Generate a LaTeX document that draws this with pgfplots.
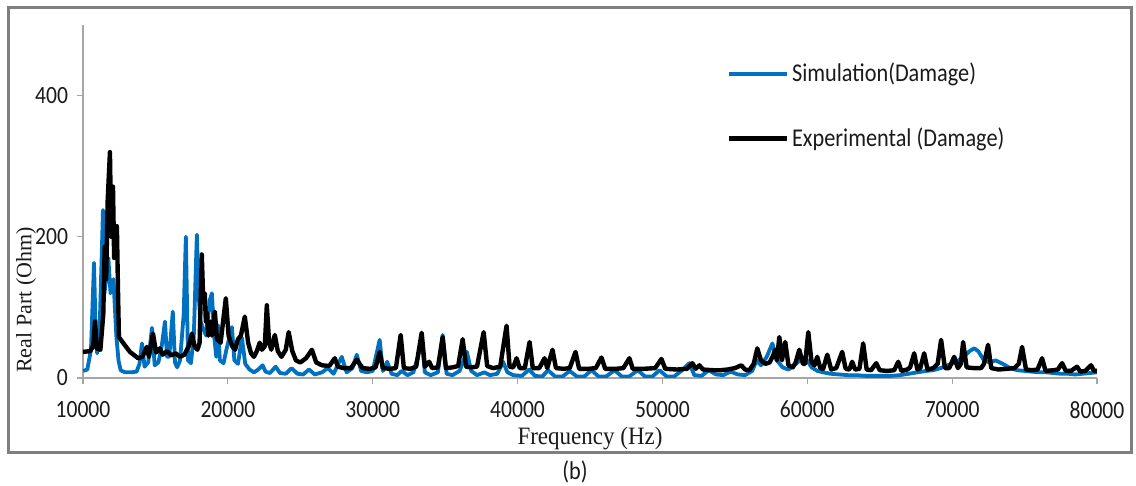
\documentclass[border=0pt]{standalone}
\usepackage{pgfplots}
\pgfplotsset{compat=1.18}
\usepackage{fontspec}
\setmainfont{Carlito}[FakeStretch=0.87]
\newfontfamily\serifx{Liberation Serif}[FakeStretch=0.92]
\newfontfamily\serify{Liberation Serif}
\definecolor{simblue}{HTML}{0070C0}
\definecolor{framegray}{HTML}{7F7F7F}
\definecolor{axgray}{HTML}{A6A6A6}
\definecolor{txt}{HTML}{1A1A1A}

\pgfplotstableread{
f v
10000 37
10500 38
10700 45
10830 80
10950 42
11200 40
11400 90
11500 186
11600 140
11700 250
11860 320
11950 200
12070 271
12150 170
12340 215
12420 120
12480 58
12760 50
13240 37
13800 28
14100 30
14400 44
14550 30
14830 63
15050 36
15300 42
15500 33
15800 38
16100 32
16400 35
16700 30
17000 33
17300 45
17520 63
17700 45
17900 40
18050 50
18200 175
18300 110
18410 120
18480 80
18550 92
18650 60
18800 80
18900 60
19100 94
19250 55
19500 50
19860 113
20050 60
20300 45
20500 40
20700 55
20900 60
21170 87
21400 50
21600 35
21800 30
22000 38
22200 50
22350 40
22550 45
22690 103
22850 50
23000 40
23240 61
23450 38
23700 30
24000 40
24200 65
24450 38
24700 25
25000 22
25400 28
25800 40
26100 22
26500 18
27000 17
27380 28
27600 16
28000 14
28500 14
28900 26
29300 14
29800 13
30200 15
30480 37
30700 14
31200 13
31600 14
31930 61
32150 14
32600 13
33000 16
33380 64
33600 16
33900 23
34100 14
34500 15
34830 58
35050 14
35500 15
35900 17
36210 55
36450 16
36800 15
37200 16
37660 65
37900 17
38300 14
38800 16
39240 74
39450 16
39700 15
39930 28
40150 14
40500 14
40830 51
41050 14
41500 14
41860 28
42050 14
42410 40
42650 14
43200 13
43600 14
44000 37
44250 13
44900 13
45400 14
45790 29
46050 13
46800 13
47300 14
47720 28
47950 13
48700 13
49500 14
49930 27
50200 13
51000 12
51700 13
52070 21
52300 13
52550 18
52800 12
53500 11
54000 11
54500 12
55000 14
55450 18
55700 12
56000 11
56300 20
56550 42
56800 25
57100 20
57400 22
57600 30
57790 40
57900 25
58070 58
58250 25
58480 51
58700 18
59000 15
59200 22
59450 40
59700 20
59850 20
60070 65
60300 22
60500 18
60690 30
60900 14
61100 13
61380 33
61650 12
62000 14
62410 37
62650 13
62900 12
63100 23
63300 12
63600 13
63860 49
64100 12
64400 11
64760 21
65000 11
65500 10
66000 11
66280 23
66500 10
66900 12
67100 15
67380 35
67600 12
67800 14
68070 35
68300 12
68700 14
69000 20
69240 54
69500 14
69800 14
70140 30
70400 14
70600 20
70760 51
71000 15
71500 14
72000 14
72200 20
72480 47
72700 14
73200 12
73800 13
74300 14
74600 20
74830 44
75100 12
75500 11
75900 12
76210 28
76450 10
77000 11
77300 12
77590 21
77850 10
78200 10
78620 16
78850 9
79200 10
79590 18
79800 10
80000 10
}\exptable

\pgfplotstableread{
f v
10000 10
10300 12
10550 40
10760 163
10880 60
10980 35
11150 70
11380 238
11480 120
11600 140
11750 170
11900 120
12100 140
12300 60
12450 25
12600 11
12900 8
13300 8
13700 9
13900 20
14070 49
14250 16
14500 22
14760 71
14950 18
15200 22
15400 40
15660 80
15800 30
15950 30
16200 94
16350 22
16500 15
16700 25
16950 90
17100 200
17250 25
17450 21
17650 60
17860 203
17980 120
18100 80
18300 70
18500 60
18750 110
18900 120
19050 60
19200 30
19310 75
19450 25
19700 21
19900 40
20280 72
20450 25
20700 20
20970 57
21200 20
21500 12
21800 8
22100 12
22400 18
22600 9
22900 7
23300 16
23600 7
24000 6
24400 14
24800 6
25200 5
25600 12
26000 5
26500 8
26900 14
27300 6
27860 30
28200 8
28600 14
28900 33
29200 10
29600 8
30000 10
30480 54
30700 10
31000 23
31300 6
31700 4
32000 10
32400 4
32800 8
33100 28
33380 55
33600 8
34000 4
34500 8
34830 61
35100 6
35500 4
36000 10
36500 37
36800 10
37200 4
37700 8
38100 4
38600 6
39000 23
39300 8
39700 4
40300 3
40800 12
41200 3
41700 2
42100 11
42600 2
43100 2
43600 10
44100 2
44600 2
45100 11
45600 2
46100 2
46700 11
47200 2
47700 2
48300 11
48800 2
49300 2
49800 11
50300 2
50800 2
51300 10
51860 21
52200 4
52700 3
53200 11
53700 5
54200 4
54700 9
55200 5
55700 4
56200 10
56500 25
56800 18
57200 30
57590 49
57900 25
58300 15
58700 12
59100 18
59500 25
59900 28
60300 15
60700 10
61100 8
61600 6
62200 5
62800 4
63400 4
64000 3
64600 3
65200 3
65800 3
66400 4
67000 6
67600 8
68200 10
68700 11
69200 14
69700 18
70200 22
70800 30
71200 38
71520 42
71800 38
72200 25
72600 22
73000 25
73500 20
74000 14
74500 11
75000 10
75500 9
76000 8
76500 8
77000 7
77500 6
78000 6
78500 5
79000 6
79500 7
80000 8
}\simtable

\begin{document}
\begin{tikzpicture}
\draw[framegray, line width=1.5pt] (4pt,16.5pt) rectangle (565.5pt,239pt);
\begin{axis}[
  at={(41.5pt,54pt)}, anchor=south west,
  scale only axis, width=507pt, height=176.5pt,
  xmin=10000, xmax=80000, ymin=0, ymax=500,
  axis lines*=left,
  axis line style={axgray, line width=0.8pt},
  xtick={10000,20000,...,80000}, ytick={0,200,400},
  scaled x ticks=false, scaled y ticks=false,
  tick align=outside, major tick length=3pt,
  tick style={axgray, line width=0.6pt},
  /pgf/number format/assume math mode=true,
  /pgf/number format/set thousands separator={},
  ticklabel style={font=\fontsize{12.4}{14}\selectfont, text=txt},
  xticklabel style={yshift=-5pt},
  yticklabel style={xshift=-1pt},
  xlabel={\serifx Frequency (Hz)},
  ylabel={\serify Real Part (Ohm)},
  xlabel style={at={(axis description cs:0.5,-0.172)}, anchor=center, font=\fontsize{12.5}{14}\selectfont, text=txt},
  ylabel style={at={(axis description cs:-0.0562,0.221)}, anchor=center, font=\fontsize{11}{13}\selectfont, text=txt},
  legend style={draw=none, fill=none, at={(axis description cs:0.635,0.90)}, anchor=north west,
    font=\fontsize{12.8}{14}\selectfont, text=txt, row sep=19pt, inner sep=0pt,
    nodes={inner sep=1.2pt}},
  legend cell align=left,
  legend image code/.code={\draw[#1] (0pt,0pt) -- (29pt,0pt);},
]
\addplot[simblue, line width=1.9pt, line join=round] table[x=f,y=v] {\simtable};
\addlegendentry{Simulation(Damage)}
\addplot[black, line width=2.2pt, line join=round] table[x=f,y=v] {\exptable};
\addlegendentry{Experimental (Damage)}
\end{axis}
\node[text=txt, font=\fontsize{12.8}{14}\selectfont] at (287.5pt,7pt) {(b)};
\pgfresetboundingbox
\useasboundingbox (0,0) rectangle (568pt,243pt);
\end{tikzpicture}
\end{document}
